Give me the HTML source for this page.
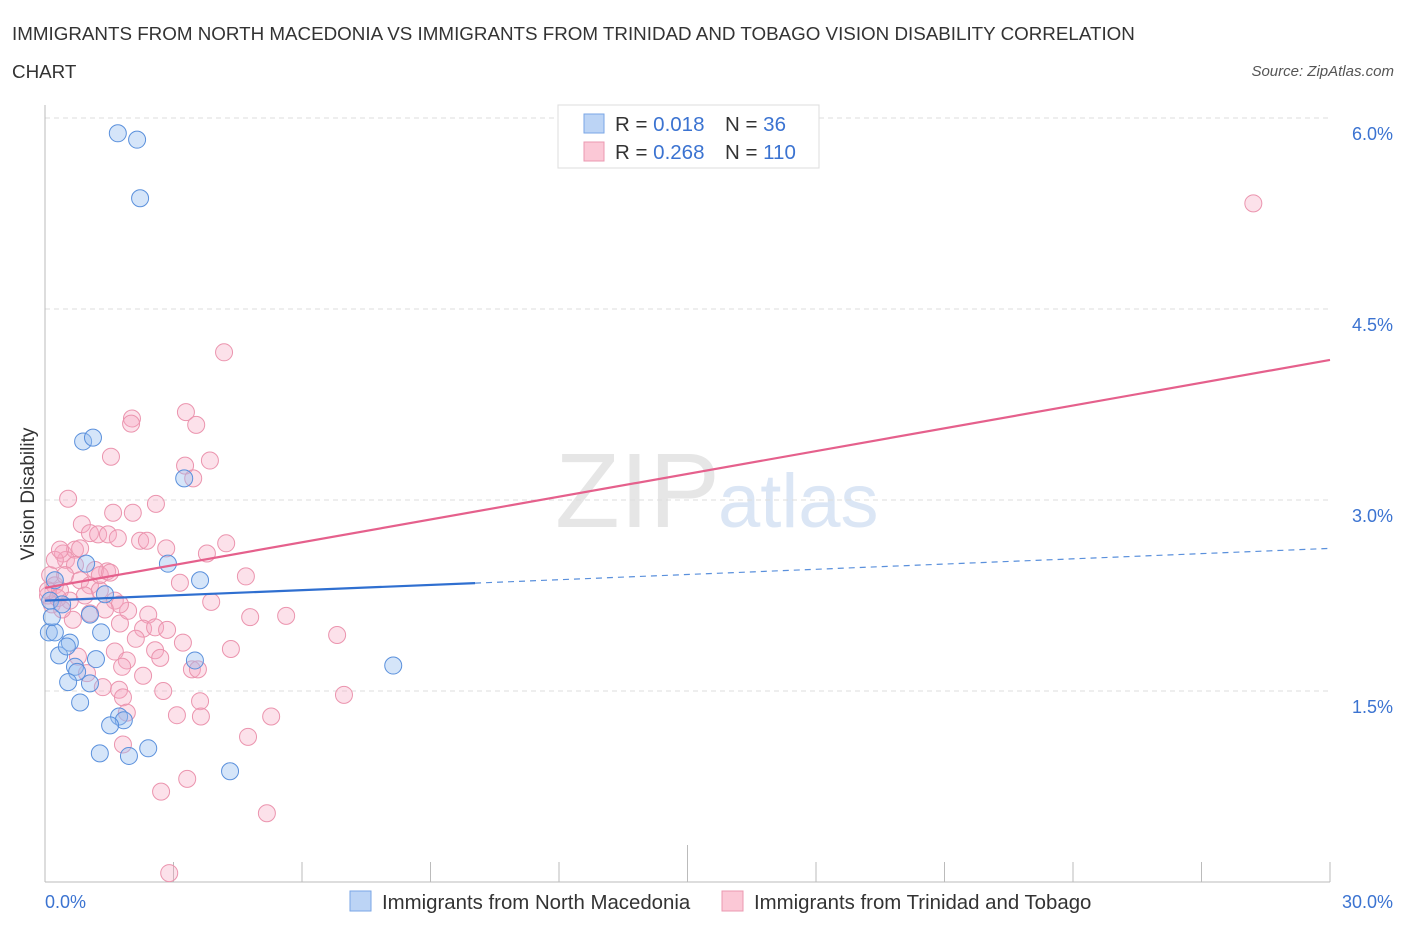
<!DOCTYPE html>
<html><head><meta charset="utf-8"><style>
body{margin:0;background:#fff;font-family:"Liberation Sans",sans-serif;}
svg text{font-family:"Liberation Sans",sans-serif;}
</style></head><body>
<svg id="chart" width="1406" height="930">
<text x="12" y="40" font-size="18.8" fill="#333">IMMIGRANTS FROM NORTH MACEDONIA VS IMMIGRANTS FROM TRINIDAD AND TOBAGO VISION DISABILITY CORRELATION</text>
<text x="12" y="78" font-size="18.8" fill="#333">CHART</text>
<text x="1394" y="76" font-size="15" fill="#555" font-style="italic" text-anchor="end">Source: ZipAtlas.com</text>
<g>
<text x="555" y="527" font-size="106" font-family="Liberation Serif,serif" fill="#e6e6e6">ZIP</text>
<text x="718" y="527" font-size="76" fill="#dbe6f5">atlas</text>
</g>
<g id="grid"></g>
<g id="axes"></g>
<g id="marks"></g>
<g>
<rect x="558" y="105" width="261" height="63" fill="#fff" stroke="#ddd"/>
<rect x="584" y="114" width="20" height="19" fill="#bcd4f5" stroke="#7aa6e6"/>
<rect x="584" y="142" width="20" height="19" fill="#fbc8d6" stroke="#eb98b0"/>
<text x="615" y="131" font-size="20.5" fill="#333">R = <tspan fill="#3b73d1">0.018</tspan></text>
<text x="725" y="131" font-size="20.5" fill="#333">N = <tspan fill="#3b73d1"> 36</tspan></text>
<text x="615" y="159" font-size="20.5" fill="#333">R = <tspan fill="#3b73d1">0.268</tspan></text>
<text x="725" y="159" font-size="20.5" fill="#333">N = <tspan fill="#3b73d1">110</tspan></text>
</g>
<g>
<rect x="350" y="891" width="21" height="20" fill="#bcd4f5" stroke="#7aa6e6"/>
<text x="382" y="909" font-size="20.4" fill="#333">Immigrants from North Macedonia</text>
<rect x="722" y="891" width="21" height="20" fill="#fbc8d6" stroke="#eb98b0"/>
<text x="754" y="909" font-size="20.4" fill="#333">Immigrants from Trinidad and Tobago</text>
</g>
</svg>
<script>
const yTicks=[1.5,3.0,4.5,6.0];
const yTickLabels=["1.5%","3.0%","4.5%","6.0%"];
const xTickLabels=["0.0%","30.0%"];
const blueX=[1.70,2.15,2.22,0.89,1.12,3.25,2.87,3.62,0.96,0.09,0.23,0.16,0.33,0.58,0.51,1.19,1.31,0.70,0.75,0.54,1.05,0.82,1.73,1.84,1.52,1.28,1.96,2.41,4.32,8.13,3.50,0.12,0.40,1.40,1.05,0.23];
const blueY=[5.88,5.83,5.37,3.46,3.49,3.17,2.50,2.37,2.50,1.96,1.96,2.08,1.78,1.88,1.85,1.75,1.96,1.69,1.65,1.57,1.56,1.41,1.30,1.27,1.23,1.01,0.99,1.05,0.87,1.70,1.74,2.21,2.18,2.26,2.10,2.37];
const pinkX=[2.03,2.01,3.29,3.53,1.54,3.85,3.27,3.46,0.54,2.59,1.59,2.05,0.86,1.05,1.24,1.47,1.70,2.22,2.38,2.83,4.23,3.78,0.42,0.70,1.45,3.15,4.69,3.88,4.79,5.63,6.82,1.75,2.41,2.29,2.57,2.85,1.94,3.22,2.12,1.63,2.57,2.69,1.91,1.80,2.29,3.43,3.57,4.34,1.35,1.73,1.82,2.76,3.62,6.98,1.91,3.08,3.64,5.28,4.74,1.82,3.32,2.71,5.18,0.77,0.98,0.65,1.05,4.18,28.21,2.90,0.12,0.23,0.07,0.35,0.16,0.49,0.70,0.47,0.82,1.05,1.28,0.23,0.58,0.93,1.17,1.28,0.35,0.07,0.30,1.52,1.63,1.75,1.40,0.82,0.40];
const pinkY=[3.64,3.60,3.69,3.59,3.34,3.31,3.27,3.17,3.01,2.97,2.90,2.90,2.81,2.74,2.73,2.73,2.70,2.68,2.68,2.62,2.66,2.58,2.58,2.61,2.44,2.35,2.40,2.20,2.08,2.09,1.94,2.03,2.10,1.99,2.00,1.98,2.13,1.88,1.91,1.81,1.82,1.76,1.74,1.69,1.62,1.67,1.67,1.83,1.53,1.51,1.45,1.50,1.42,1.47,1.33,1.31,1.30,1.30,1.14,1.08,0.81,0.71,0.54,1.77,1.64,2.06,2.11,4.16,5.33,0.07,2.41,2.33,2.25,2.29,2.18,2.53,2.49,2.41,2.37,2.33,2.29,2.53,2.21,2.25,2.45,2.41,2.61,2.29,2.23,2.43,2.21,2.18,2.14,2.62,2.14];
const pinkTrend=[2.31,4.10];
const blueTrend=[2.21,2.62];
const blueSolidEnd=10.04;
const X0=45,X1=1330,Y0=882,YS=127.33;
const sx=v=>X0+v/30*(X1-X0);
const sy=v=>Y0-v*YS;
const NS="http://www.w3.org/2000/svg";
function mk(tag,attrs,parent){const e=document.createElementNS(NS,tag);for(const k in attrs)e.setAttribute(k,attrs[k]);document.getElementById(parent).appendChild(e);return e;}
yTicks.forEach((t,i)=>{
 const l=mk('line',{x1:X0,x2:1330,y1:sy(t),y2:sy(t),stroke:'#ddd','stroke-dasharray':'5,4'},'grid');
 
 
 const tx=mk('text',{x:1393,y:sy(t)+22,'font-size':18,fill:'#3b73d1','text-anchor':'end'},'grid');
 tx.textContent=yTickLabels[i];
 
 
});
let ax=mk('line',{x1:X0,x2:X0,y1:105,y2:Y0,stroke:'#bbb'},'axes');


ax=mk('line',{x1:X0,x2:X1,y1:Y0,y2:Y0,stroke:'#bbb'},'axes');


for(let i=0;i<=10;i++){
 const tk=mk('line',{x1:sx(i*3),x2:sx(i*3),y1:i==5?845:862,y2:Y0,stroke:'#bbb'},'axes');
 
 
}
let xl=mk('text',{x:45,y:908,'font-size':18,fill:'#3b73d1'},'axes');xl.textContent=xTickLabels[0];


xl=mk('text',{x:1393,y:908,'font-size':18,fill:'#3b73d1','text-anchor':'end'},'axes');xl.textContent=xTickLabels[1];


const yt=mk('text',{x:0,y:0,'font-size':19,fill:'#333','text-anchor':'middle',transform:'translate(34,494) rotate(-90)'},'axes');
yt.textContent='Vision Disability';


pinkX.forEach((x,i)=>{
 const c=mk('circle',{cx:sx(x),cy:sy(pinkY[i]),r:8.5,fill:'rgba(246,170,195,0.35)',stroke:'#eb94ae','stroke-width':1},'marks');
 
 
});
blueX.forEach((x,i)=>{
 const c=mk('circle',{cx:sx(x),cy:sy(blueY[i]),r:8.5,fill:'rgba(150,190,240,0.4)',stroke:'#5a90dc','stroke-width':1},'marks');
 
 
});
const bAt=x=>blueTrend[0]+(blueTrend[1]-blueTrend[0])*x/30;
let tl=mk('line',{x1:sx(0),y1:sy(pinkTrend[0]),x2:sx(30),y2:sy(pinkTrend[1]),stroke:'#e5608c','stroke-width':2.2},'marks');


tl=mk('line',{x1:sx(0),y1:sy(bAt(0)),x2:sx(blueSolidEnd),y2:sy(bAt(blueSolidEnd)),stroke:'#2f6fd0','stroke-width':2.2},'marks');


tl=mk('line',{x1:sx(blueSolidEnd),y1:sy(bAt(blueSolidEnd)),x2:sx(30),y2:sy(bAt(30)),stroke:'#5a90dc','stroke-width':1.2,'stroke-dasharray':'6,5'},'marks');


</script>
</body></html>
